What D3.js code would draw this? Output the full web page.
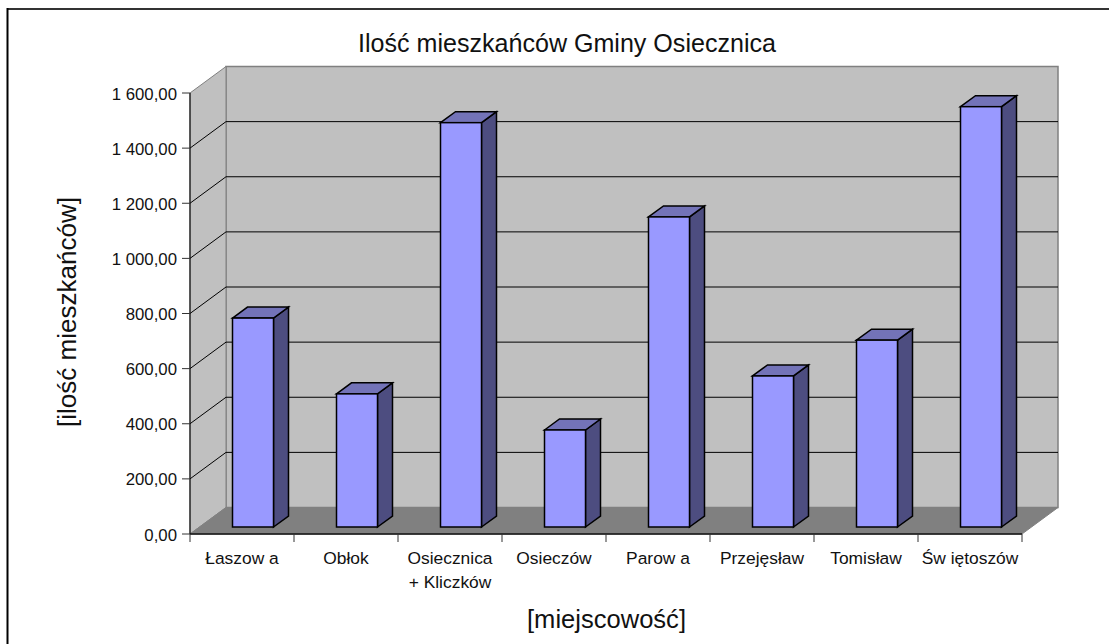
<!DOCTYPE html>
<html><head><meta charset="utf-8">
<script src="https://cdn.jsdelivr.net/npm/d3@7/dist/d3.min.js"></script>
<style>html,body{margin:0;padding:0;background:#fff}svg{display:block}text{font-family:"Liberation Sans",Arial,sans-serif;fill:#111}</style>
</head><body><svg id="c" width="1109" height="644"></svg>
<script>
const categories=[["Łaszow a"],["Obłok"],["Osiecznica","+ Kliczków"],["Osieczów"],["Parow a"],["Przejęsław"],["Tomisław"],["Św iętoszów"]];
const values=[758,483,1467,352,1125,548,678,1525];
const ticks=[0,200,400,600,800,1000,1200,1400,1600];
const tickLabels=["0,00","200,00","400,00","600,00","800,00","1 000,00","1 200,00","1 400,00","1 600,00"];
const title="Ilość mieszkańców Gminy Osiecznica", yTitle="[ilość mieszkańców]", xTitle="[miejscowość]";

const svg=d3.select("#c");
const x=d3.scaleBand().domain(d3.range(categories.length)).range([190,1022]).paddingInner(0).paddingOuter(0);
const y=d3.scaleLinear().domain([0,1600]).range([534,93]);
const dx=36,dy=-26.5;          // full depth of the 3-D box
const bdx=15,bdy=-11;          // depth of a bar
const fx=10,fy=-7;             // bar offset from the front edge
const bw=41;

svg.append("line").attr("x1",7).attr("x2",1109).attr("y1",9).attr("y2",9).attr("stroke","#333").attr("stroke-width",2);
svg.append("line").attr("x1",7.5).attr("x2",7.5).attr("y1",8).attr("y2",644).attr("stroke","#000").attr("stroke-width",2);

const path=p=>"M"+p.map(a=>a.join(",")).join("L")+"Z";
const x0=x.range()[0],x1=x.range()[1];
// back wall
svg.append("path").attr("d",path([[x0+dx,y(1600)+dy],[x1+dx,y(1600)+dy],[x1+dx,y(0)+dy],[x0+dx,y(0)+dy]])).attr("fill","#c0c0c0").attr("stroke","#808080").attr("stroke-width",1.5);
// side wall
svg.append("path").attr("d",path([[x0,y(1600)],[x0+dx,y(1600)+dy],[x0+dx,y(0)+dy],[x0,y(0)]])).attr("fill","#c0c0c0").attr("stroke","#808080").attr("stroke-width",1);
// floor
svg.append("path").attr("d",path([[x0,y(0)],[x0+dx,y(0)+dy],[x1+dx,y(0)+dy],[x1,y(0)]])).attr("fill","#808080").attr("stroke","#808080").attr("stroke-width",1);
// grid
ticks.slice(1,-1).forEach(t=>{
  svg.append("path").attr("fill","none").attr("stroke","#000").attr("stroke-width",1)
   .attr("d",`M${x0},${y(t)}L${x0+dx},${y(t)+dy}L${x1+dx},${y(t)+dy}`);
});
// axes
svg.append("line").attr("x1",x0).attr("x2",x0).attr("y1",y(1600)).attr("y2",y(0)).attr("stroke","#111").attr("stroke-width",1.2);
svg.append("line").attr("x1",x0).attr("x2",x1).attr("y1",y(0)).attr("y2",y(0)).attr("stroke","#111").attr("stroke-width",1.5);
ticks.forEach((t,i)=>{
  svg.append("line").attr("x1",x0-8).attr("x2",x0).attr("y1",y(t)).attr("y2",y(t)).attr("stroke","#333");
  svg.append("text").attr("x",x0-13).attr("y",y(t)+6.5).attr("text-anchor","end").attr("font-size",16.8).text(tickLabels[i]);
});
d3.range(categories.length+1).forEach(i=>{
  const px=i<categories.length?x(i):x1;
  svg.append("line").attr("x1",px).attr("x2",px).attr("y1",y(0)).attr("y2",y(0)+8).attr("stroke","#333");
});
categories.forEach((c,i)=>{
  c.forEach((s,j)=>svg.append("text").attr("x",x(i)+x.bandwidth()/2).attr("y",564+j*24).attr("text-anchor","middle").attr("font-size",17.4).text(s));
});
// bars
values.forEach((v,i)=>{
  const l=x(i)+x.bandwidth()/2-bw/2+fx+1, r=l+bw, b=y(0)+fy, t=y(v)+fy;
  const g=svg.append("g").attr("stroke","#000").attr("stroke-width",1.5).attr("stroke-linejoin","miter");
  g.append("path").attr("fill","#4d4d80").attr("d",path([[r,b],[r+bdx,b+bdy],[r+bdx,t+bdy],[r,t]]));
  g.append("path").attr("fill","#7373b8").attr("d",path([[l,t],[l+bdx,t+bdy],[r+bdx,t+bdy],[r,t]]));
  g.append("rect").attr("fill","#9999ff").attr("x",l).attr("y",t).attr("width",bw).attr("height",b-t);
});
svg.append("text").attr("x",358).attr("y",52).attr("font-size",25).attr("textLength",418).attr("lengthAdjust","spacingAndGlyphs").text(title);
svg.append("text").attr("transform","translate(76,312) rotate(-90)").attr("text-anchor","middle").attr("font-size",26).attr("textLength",230).attr("lengthAdjust","spacingAndGlyphs").text(yTitle);
svg.append("text").attr("x",606.5).attr("y",628).attr("text-anchor","middle").attr("font-size",25.7).attr("textLength",159).attr("lengthAdjust","spacingAndGlyphs").text(xTitle);
</script></body></html>
